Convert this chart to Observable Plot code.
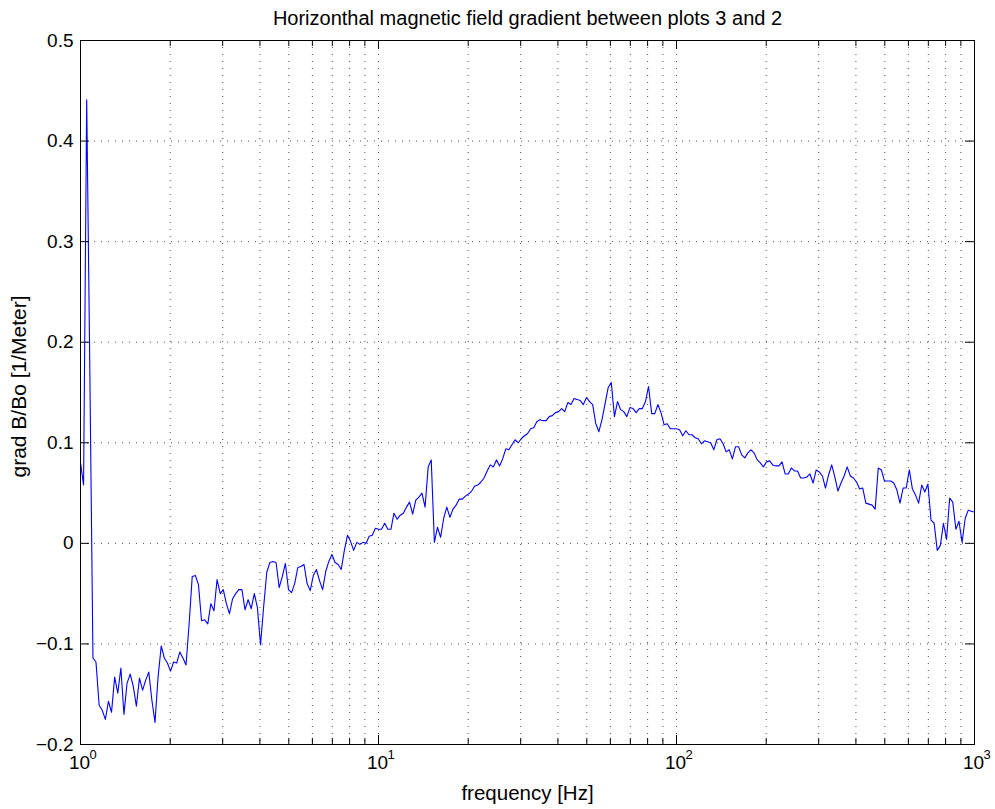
<!DOCTYPE html>
<html>
<head>
<meta charset="utf-8">
<script src="https://cdn.jsdelivr.net/npm/d3@7"></script>
<script src="https://cdn.jsdelivr.net/npm/@observablehq/plot@0.6"></script>
<style>
  html, body { margin: 0; padding: 0; background: #fff; }
  #chart svg { display: block; }
</style>
</head>
<body>
<div id="chart"></div>
<script>
// Texts
const chartTitle = "Horizonthal magnetic field gradient between plots 3 and 2";
const xLabel = "frequency [Hz]";
const yLabel = "grad B/Bo [1/Meter]";

// Frequency bins (Hz), log-spaced from 1 to 1000
const freqHz = [
  1, 1.024, 1.049, 1.075, 1.101, 1.127, 1.155, 1.183, 1.212, 1.241, 1.271, 1.302, 1.334, 1.366, 1.399, 1.433,
  1.468, 1.503, 1.540, 1.577, 1.616, 1.655, 1.695, 1.736, 1.778, 1.821, 1.866, 1.911, 1.957, 2.005, 2.054, 2.103,
  2.154, 2.207, 2.260, 2.315, 2.371, 2.429, 2.488, 2.548, 2.610, 2.674, 2.738, 2.805, 2.873, 2.943, 3.014, 3.087,
  3.162, 3.239, 3.318, 3.398, 3.481, 3.565, 3.652, 3.740, 3.831, 3.924, 4.019, 4.117, 4.217, 4.319, 4.424, 4.532,
  4.642, 4.754, 4.870, 4.988, 5.109, 5.233, 5.360, 5.490, 5.623, 5.760, 5.900, 6.043, 6.190, 6.340, 6.494, 6.651,
  6.813, 6.978, 7.148, 7.321, 7.499, 7.681, 7.867, 8.058, 8.254, 8.454, 8.660, 8.870, 9.085, 9.306, 9.532, 9.763,
  10, 10.24, 10.49, 10.75, 11.01, 11.27, 11.55, 11.83, 12.12, 12.41, 12.71, 13.02, 13.34, 13.66, 13.99, 14.33,
  14.68, 15.03, 15.40, 15.77, 16.16, 16.55, 16.95, 17.36, 17.78, 18.21, 18.66, 19.11, 19.57, 20.05, 20.54, 21.03,
  21.54, 22.07, 22.60, 23.15, 23.71, 24.29, 24.88, 25.48, 26.10, 26.74, 27.38, 28.05, 28.73, 29.43, 30.14, 30.87,
  31.62, 32.39, 33.18, 33.98, 34.81, 35.65, 36.52, 37.40, 38.31, 39.24, 40.19, 41.17, 42.17, 43.19, 44.24, 45.32,
  46.42, 47.54, 48.70, 49.88, 51.09, 52.33, 53.60, 54.90, 56.23, 57.60, 59.00, 60.43, 61.90, 63.40, 64.94, 66.51,
  68.13, 69.78, 71.48, 73.21, 74.99, 76.81, 78.67, 80.58, 82.54, 84.54, 86.60, 88.70, 90.85, 93.06, 95.32, 97.63,
  100, 102.4, 104.9, 107.5, 110.1, 112.7, 115.5, 118.3, 121.2, 124.1, 127.1, 130.2, 133.4, 136.6, 139.9, 143.3,
  146.8, 150.3, 154.0, 157.7, 161.6, 165.5, 169.5, 173.6, 177.8, 182.1, 186.6, 191.1, 195.7, 200.5, 205.4, 210.3,
  215.4, 220.7, 226.0, 231.5, 237.1, 242.9, 248.8, 254.8, 261.0, 267.4, 273.8, 280.5, 287.3, 294.3, 301.4, 308.7,
  316.2, 323.9, 331.8, 339.8, 348.1, 356.5, 365.2, 374.0, 383.1, 392.4, 401.9, 411.7, 421.7, 431.9, 442.4, 453.2,
  464.2, 475.4, 487.0, 498.8, 510.9, 523.3, 536.0, 549.0, 562.3, 576.0, 590.0, 604.3, 619.0, 634.0, 649.4, 665.1,
  681.3, 697.8, 714.8, 732.1, 749.9, 768.1, 786.7, 805.8, 825.4, 845.4, 866.0, 887.0, 908.5, 930.6, 953.2, 976.3,
  1000
];

// grad B/Bo (1/m) at each frequency bin
const gradB = [
  0.080, 0.058, 0.441, 0.170,
  -0.114, -0.118, -0.161, -0.166, -0.175, -0.157, -0.168, -0.133, -0.149, -0.124, -0.170, -0.139,
  -0.130, -0.142, -0.162, -0.134, -0.146, -0.136, -0.128, -0.156, -0.178, -0.133, -0.102, -0.114,
  -0.119, -0.127, -0.118, -0.119, -0.108, -0.114, -0.121, -0.080, -0.033, -0.032, -0.041, -0.077,
  -0.076, -0.080, -0.060, -0.067, -0.036, -0.050, -0.046, -0.060, -0.070, -0.055, -0.050, -0.046,
  -0.046, -0.066, -0.056, -0.065, -0.050, -0.064, -0.101, -0.063, -0.029,
  -0.019, -0.018, -0.019, -0.044, -0.033, -0.020, -0.046, -0.049, -0.040, -0.024, -0.023, -0.021,
  -0.040, -0.047, -0.032, -0.026, -0.037, -0.046, -0.028, -0.018, -0.011, -0.019, -0.021, -0.026,
  -0.007, 0.008, 0.002, -0.007, 0.001, -0.001, 0.001, 0.000, 0.007, 0.008, 0.015, 0.014,
  0.014, 0.020, 0.014, 0.014, 0.030, 0.024, 0.028, 0.030, 0.036, 0.041, 0.029, 0.043,
  0.046, 0.050, 0.036, 0.076, 0.083, 0.001, 0.016,
  0.006, 0.025, 0.036, 0.026, 0.034, 0.038, 0.044, 0.044, 0.047, 0.049, 0.052, 0.057,
  0.058, 0.061, 0.065, 0.072, 0.078, 0.076, 0.083, 0.077, 0.084, 0.094, 0.093, 0.098,
  0.103, 0.100, 0.104, 0.107, 0.109, 0.114, 0.115, 0.121, 0.123, 0.122, 0.122, 0.126,
  0.127, 0.130, 0.131, 0.134, 0.131, 0.140, 0.138, 0.144, 0.143, 0.142, 0.138, 0.145,
  0.141, 0.138, 0.119, 0.111, 0.123, 0.139,
  0.155, 0.160, 0.126, 0.141, 0.133, 0.131, 0.126, 0.135, 0.134, 0.130, 0.134, 0.134,
  0.141, 0.156, 0.129, 0.129, 0.138, 0.130, 0.118, 0.119, 0.114, 0.114, 0.114, 0.113,
  0.107, 0.112, 0.108, 0.108, 0.105, 0.104, 0.099, 0.102, 0.101, 0.100, 0.093, 0.103,
  0.104, 0.099, 0.091, 0.093, 0.084, 0.096, 0.096, 0.088, 0.085, 0.090, 0.093, 0.090,
  0.083, 0.080, 0.076, 0.081, 0.082, 0.078, 0.077, 0.077, 0.081, 0.069, 0.069,
  0.075, 0.072, 0.072, 0.065, 0.065, 0.066, 0.069, 0.060, 0.073, 0.071, 0.067, 0.055,
  0.068, 0.078, 0.066, 0.052, 0.060, 0.067, 0.076, 0.067, 0.065, 0.061, 0.054, 0.055,
  0.040, 0.039, 0.038, 0.034, 0.075, 0.073, 0.062, 0.062, 0.062, 0.060, 0.053, 0.040,
  0.055, 0.055, 0.073, 0.054, 0.048, 0.040, 0.058, 0.051, 0.059, 0.023, 0.020, -0.007,
  -0.002, 0.020, 0.004, 0.045, 0.041, 0.014, 0.022, 0.001, 0.025, 0.033, 0.032, 0.031
];

// Axis ticks and gridlines
const decadeTicks = [1, 10, 100, 1000];
const decadeExponents = ["0", "1", "2", "3"];
const minorTicks = [2, 3, 4, 5, 6, 7, 8, 9, 20, 30, 40, 50, 60, 70, 80, 90, 200, 300, 400, 500, 600, 700, 800, 900];
const yTicks = [-0.2, -0.1, 0, 0.1, 0.2, 0.3, 0.4, 0.5];
const yTickLabels = ["\u22120.2", "\u22120.1", "0", "0.1", "0.2", "0.3", "0.4", "0.5"];

// Layout
const W = 995, H = 809;
const mL = 80, mR = 21, mT = 40, mB = 65;
const plotW = W - mL - mR, plotH = H - mT - mB;
const majorLen = 9, minorLen = 6;
const font = "'Liberation Sans', Arial, Helvetica, sans-serif";

const n = Math.min(freqHz.length, gradB.length);
const spectrum = d3.range(n).map(i => ({f: freqHz[i], g: gradB[i]}));

const gridStyle = {stroke: "#000", strokeOpacity: 0.7, strokeWidth: 1, strokeDasharray: "1,6"};

const chart = Plot.plot({
  width: W,
  height: H,
  marginLeft: mL,
  marginRight: mR,
  marginTop: mT,
  marginBottom: mB,
  style: {fontFamily: font, fontSize: "19px", background: "#fff", color: "#000"},
  x: {type: "log", domain: [1, 1000], axis: null},
  y: {domain: [-0.2, 0.5], axis: null},
  marks: [
    // dotted grid
    Plot.ruleY(yTicks.slice(1, -1), {y: d => d, ...gridStyle}),
    Plot.ruleX(minorTicks.concat([10, 100]), {x: d => d, ...gridStyle}),
    // data trace
    Plot.line(spectrum, {x: "f", y: "g", stroke: "#0000ff", strokeWidth: 1.1, clip: true}),
    // box
    Plot.frame({stroke: "#000", strokeWidth: 1}),
    // inward ticks: left / right
    Plot.tickY(yTicks, {y: d => d, stroke: "#000", insetRight: plotW - majorLen}),
    Plot.tickY(yTicks, {y: d => d, stroke: "#000", insetLeft: plotW - majorLen}),
    // inward ticks: bottom / top
    Plot.tickX(decadeTicks, {x: d => d, stroke: "#000", insetTop: plotH - majorLen}),
    Plot.tickX(decadeTicks, {x: d => d, stroke: "#000", insetBottom: plotH - majorLen}),
    Plot.tickX(minorTicks, {x: d => d, stroke: "#000", insetTop: plotH - minorLen}),
    Plot.tickX(minorTicks, {x: d => d, stroke: "#000", insetBottom: plotH - minorLen}),
    // y tick labels
    Plot.text(yTicks, {y: d => d, text: (d, i) => yTickLabels[i], frameAnchor: "left",
      textAnchor: "end", lineAnchor: "middle", dx: -7, fontSize: 19, fill: "#000"}),
    // x tick labels: base and exponent
    Plot.text(decadeTicks, {x: d => d, text: () => "10", frameAnchor: "bottom",
      textAnchor: "middle", lineAnchor: "bottom", dx: -1, dy: 24, fontSize: 19, fill: "#000"}),
    Plot.text(decadeTicks, {x: d => d, text: (d, i) => decadeExponents[i], frameAnchor: "bottom",
      textAnchor: "start", lineAnchor: "bottom", dx: 9, dy: 14, fontSize: 13, fill: "#000"}),
    // title and axis labels
    Plot.text([chartTitle], {text: d => d, frameAnchor: "top", textAnchor: "middle", lineAnchor: "bottom",
      dy: -16, fontSize: 20, fill: "#000"}),
    Plot.text([xLabel], {text: d => d, frameAnchor: "bottom", textAnchor: "middle", lineAnchor: "bottom",
      dy: 55, fontSize: 20.5, fill: "#000"}),
    Plot.text([yLabel], {text: d => d, frameAnchor: "left", textAnchor: "middle", rotate: -90,
      lineAnchor: "bottom", dx: -55, dy: -6, fontSize: 21, fill: "#000"})
  ]
});

document.getElementById("chart").appendChild(chart);
</script>
</body>
</html>
